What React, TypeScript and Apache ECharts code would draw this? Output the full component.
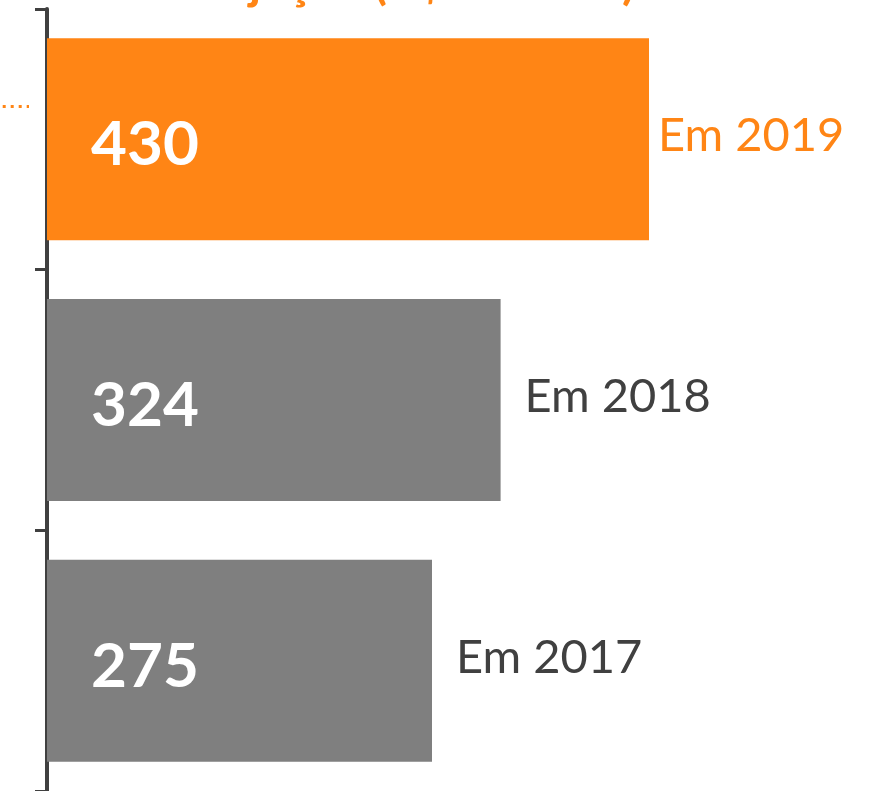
import React, { useEffect, useRef } from "react";
import * as echarts from "echarts";

const categories = ["Em 2019", "Em 2018", "Em 2017"];
const values = [430, 324, 275];
const barColors = ["#FF8515", "#7F7F7F", "#7F7F7F"];
const labelColors = ["#FF8515", "#404040", "#404040"];
const labelGaps = [9, 24, 24];
const titleText = "Projeção (R$ milhões)";

export default function App() {
  const ref = useRef<HTMLDivElement>(null);
  useEffect(() => {
    if (!ref.current) return;
    const chart = echarts.init(ref.current, null, { renderer: "svg" });
    const font = "Lato, 'DejaVu Sans', sans-serif";
    chart.setOption({
      animation: false,
      grid: { left: 47, top: 9, width: 700, bottom: -4 },
      xAxis: { type: "value", min: 0, max: 500, show: false },
      yAxis: {
        type: "category",
        data: categories,
        inverse: true,
        offset: 2,
        axisLine: { show: true, lineStyle: { color: "#404040", width: 4 } },
        axisTick: { show: true, length: 12, lineStyle: { color: "#404040", width: 3 } },
        axisLabel: { show: false },
        splitLine: { show: false },
      },
      series: [
        {
          type: "bar",
          barWidth: 202,
          data: values.map((v, i) => ({ value: v, itemStyle: { color: barColors[i] } })),
          label: {
            show: true,
            position: "insideLeft",
            distance: 44,
            color: "#FFFFFF",
            fontFamily: font,
            fontWeight: "bold",
            fontSize: 62,
            offset: [0, 2],
          },
        },
        {
          type: "bar",
          barWidth: 202,
          barGap: "-100%",
          silent: true,
          itemStyle: { color: "rgba(0,0,0,0)" },
          data: values.map((v, i) => ({
            value: v,
            label: {
              show: true,
              position: "right",
              distance: labelGaps[i],
              color: labelColors[i],
              formatter: categories[i],
            },
          })),
          label: {
            fontFamily: font,
            fontSize: 47,
            offset: [0, -6],
          },
        },
      ],
      graphic: [
        {
          type: "line",
          shape: { x1: 2.7, y1: 106.5, x2: 29, y2: 106.5 },
          style: { stroke: "#FF8515", lineWidth: 3, lineDash: [3, 5] },
        },
        {
          type: "text",
          x: 175,
          y: -20,
          style: {
            text: titleText,
            fill: "#FF8515",
            verticalAlign: "middle",
            font: "bold 48px Lato, 'DejaVu Sans', sans-serif",
          },
        },
      ],
    });
    return () => chart.dispose();
  }, []);
  return (
    <div
      ref={ref}
      style={{ position: "fixed", left: 0, top: 0, width: 871, height: 791 }}
    />
  );
}
